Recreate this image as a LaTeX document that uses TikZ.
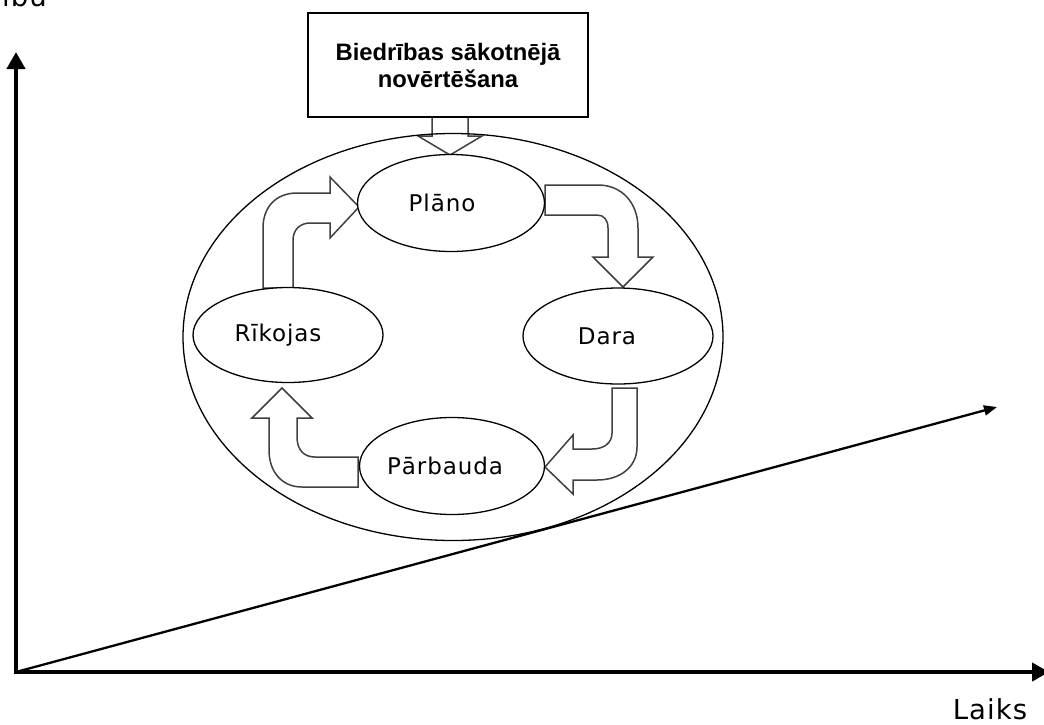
\documentclass[tikz,border=0pt]{standalone}
\usepackage{fontspec}
\setmainfont{DejaVu Sans}
\newfontfamily\lblfont[LetterSpace=4]{DejaVu Sans}
\newfontfamily\boxfont{Liberation Sans}
\usetikzlibrary{arrows.meta,shapes.geometric}
\tikzset{
  ell/.style={ellipse, draw=black, line width=1.3pt, fill=white, inner sep=0pt,
              font=\lblfont\fontsize{23}{27}\selectfont},
  blockarrow/.style={draw=black!75, line width=1.5pt, fill=white, line join=miter},
  axis/.style={line width=4.5pt, line join=miter, {Triangle[length=17pt,width=18pt]}-{Triangle[length=17pt,width=18pt]}},
  trend/.style={line width=2.3pt, -{Triangle[length=13pt,width=10pt]}},
  axlabel/.style={font=\lblfont\fontsize{27.5}{31}\selectfont, inner sep=0pt}
}
\begin{document}
\begin{tikzpicture}[x=1pt,y=-1pt]
\useasboundingbox (0,0) rectangle (1044,724);
\fill[white] (0,0) rectangle (1044,724);

% axes
\coordinate (O) at (16,672);
\coordinate (ytip) at (16,52);
\coordinate (xtip) at (1049,672);
\coordinate (dtip) at (997,407);
\draw[axis] (ytip) -- (O) -- (xtip);
\draw[trend] (O) -- (dtip);

\node[axlabel, anchor=base] (laiks) at (990,719) {Laiks};
\node[axlabel, anchor=base east] (ylab) at (47,6) {ību};

% top block arrow from box into cycle
\draw[blockarrow] (432,116) -- (432,136) -- (418,136) -- (450,155) -- (482,136) -- (468,136) -- (468,116) -- cycle;

% outer ellipse
\node[ellipse, draw=black, line width=1.3pt, minimum width=540, minimum height=407] (outer) at (453,337) {};

% box
\node[draw=black, line width=2pt, fill=white, minimum width=280, minimum height=104, align=center,
      font=\boxfont\bfseries\fontsize{23.8}{27}\selectfont] (box) at (448,65) {Biedrības sākotnējā\\novērtēšana};

% cycle block arrows
% Rikojas -> Plano
\draw[blockarrow] (263,288) -- (263,228) .. controls (263,207) and (276,193) .. (297,193) -- (330,193) -- (330,177) -- (359,207) -- (330,238) -- (330,223) -- (310,223) .. controls (300,223) and (293,230) .. (293,240) -- (293,288) -- cycle;
% Plano -> Dara
\draw[blockarrow] (545,185) -- (598,185) .. controls (622,185) and (638,203) .. (638,228) -- (638,257) -- (653,257) -- (623,287) -- (593,257) -- (608,257) -- (608,228) .. controls (608,220) and (604,215) .. (597,215) -- (545,215) -- cycle;
% Dara -> Parbauda
\draw[blockarrow] (612,388) -- (637,388) -- (637,447) .. controls (637,467) and (620,480) .. (597,480) -- (573,480) -- (573,494) -- (545,467) -- (573,435) -- (573,449) -- (592,449) .. controls (604,449) and (612,443) .. (612,433) -- cycle;
% Parbauda -> Rikojas
\draw[blockarrow] (358,457) -- (315,457) .. controls (304,457) and (297,450) .. (297,437) -- (297,418) -- (312,418) -- (282,388) -- (252,418) -- (269,418) -- (269,450) .. controls (269,472) and (282,487) .. (302,487) -- (358,487) -- cycle;

% inner ellipses
\node[ell, minimum width=187, minimum height=97] (plano) at (451,203) {\hspace*{-18pt}Plāno};
\node[ell, minimum width=190, minimum height=96] (dara) at (618,336) {\hspace*{-22pt}Dara};
\node[ell, minimum width=190, minimum height=95] (rikojas) at (288,335) {\hspace*{-20pt}Rīkojas};
\node[ell, minimum width=185, minimum height=97] (parbauda) at (452,466) {\hspace*{-14pt}Pārbauda};
\end{tikzpicture}
\end{document}
